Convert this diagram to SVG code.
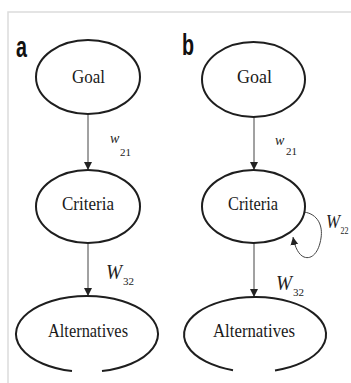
<svg xmlns="http://www.w3.org/2000/svg" width="351" height="383" viewBox="0 0 351 383">
<defs>
<style>
.node{fill:none;stroke:#1e1e1e;stroke-width:2}
.lbl{font-family:"Liberation Serif","Times New Roman",serif;font-size:19px;fill:#1a1a1a;text-anchor:middle}
.edge{fill:none;stroke:#444;stroke-width:1}
.w{font-family:"Liberation Serif","Times New Roman",serif;font-style:italic;fill:#222}
.sub{font-family:"Liberation Serif","Times New Roman",serif;fill:#222;font-size:11px}
.panel{font-family:"Liberation Sans",Arial,sans-serif;font-weight:bold;font-size:29px;fill:#111}
.frame{fill:none;stroke:#dcdcdc;stroke-width:1.5}
</style>
<marker id="arr" viewBox="0 0 8 10" refX="8" refY="5" markerWidth="8" markerHeight="10" markerUnits="userSpaceOnUse" orient="auto">
<path d="M0,1 L8,5 L0,9 Z" fill="#222"/>
</marker>
</defs>
<rect width="351" height="383" fill="#fff"/>
<path class="frame" d="M8,383 V12 H351"/>

<text class="panel" transform="translate(16,57) scale(0.68,1)">a</text>
<text class="panel" transform="translate(182,55) scale(0.68,1)">b</text>

<g id="connectors">
<line class="edge" x1="88" y1="114" x2="88" y2="170" marker-end="url(#arr)"/>
<line class="edge" x1="88" y1="243" x2="88" y2="296" marker-end="url(#arr)"/>
<line class="edge" x1="254" y1="117" x2="254" y2="170" marker-end="url(#arr)"/>
<line class="edge" x1="254" y1="243" x2="254" y2="297" marker-end="url(#arr)"/>
<path class="edge" stroke-width="1.4" d="M304,212 C318,214 323,226 321,238 C319,252 312,260 304,257 C299,255 295,248 293,237" marker-end="url(#arr)"/>
<text class="w" font-size="14" x="110" y="143">w</text><text class="sub" x="120" y="156">21</text>
<text class="w" font-size="14" x="275" y="145">w</text><text class="sub" x="286" y="155">21</text>
<text class="w" font-size="21" x="106" y="279" textLength="16" lengthAdjust="spacingAndGlyphs">W</text><text class="sub" x="123" y="285">32</text>
<text class="w" font-size="21" x="276" y="290" textLength="16" lengthAdjust="spacingAndGlyphs">W</text><text class="sub" x="293" y="296">32</text>
<text class="w" font-size="19" x="326" y="228" textLength="14" lengthAdjust="spacingAndGlyphs">W</text><text class="sub" x="340.5" y="234" font-size="10" textLength="8" lengthAdjust="spacingAndGlyphs">22</text>
</g>

<g id="goal-a">
<ellipse class="node" cx="88" cy="77" rx="52" ry="37"/>
<text class="lbl" x="88.5" y="83" textLength="33" lengthAdjust="spacingAndGlyphs">Goal</text>
</g>
<g id="criteria-a">
<ellipse class="node" cx="88" cy="206.5" rx="52" ry="36.5"/>
<text class="lbl" x="88" y="210" textLength="52" lengthAdjust="spacingAndGlyphs">Criteria</text>
</g>
<g id="alternatives-a">
<path class="node" d="M102,371.1 A71,38 0 1 0 72,371.1"/>
<text class="lbl" x="88" y="337" textLength="80" lengthAdjust="spacingAndGlyphs">Alternatives</text>
</g>

<g id="goal-b">
<ellipse class="node" cx="253.5" cy="79.5" rx="51.5" ry="37.5"/>
<text class="lbl" x="254.5" y="83" textLength="35" lengthAdjust="spacingAndGlyphs">Goal</text>
</g>
<g id="criteria-b">
<ellipse class="node" cx="253.5" cy="206.5" rx="51.5" ry="36.5"/>
<text class="lbl" x="253" y="210" textLength="50" lengthAdjust="spacingAndGlyphs">Criteria</text>
</g>
<g id="alternatives-b">
<path class="node" d="M275,370.5 A71,37.5 0 1 0 233,370.15"/>
<text class="lbl" x="254" y="337" textLength="82" lengthAdjust="spacingAndGlyphs">Alternatives</text>
</g>
</svg>
